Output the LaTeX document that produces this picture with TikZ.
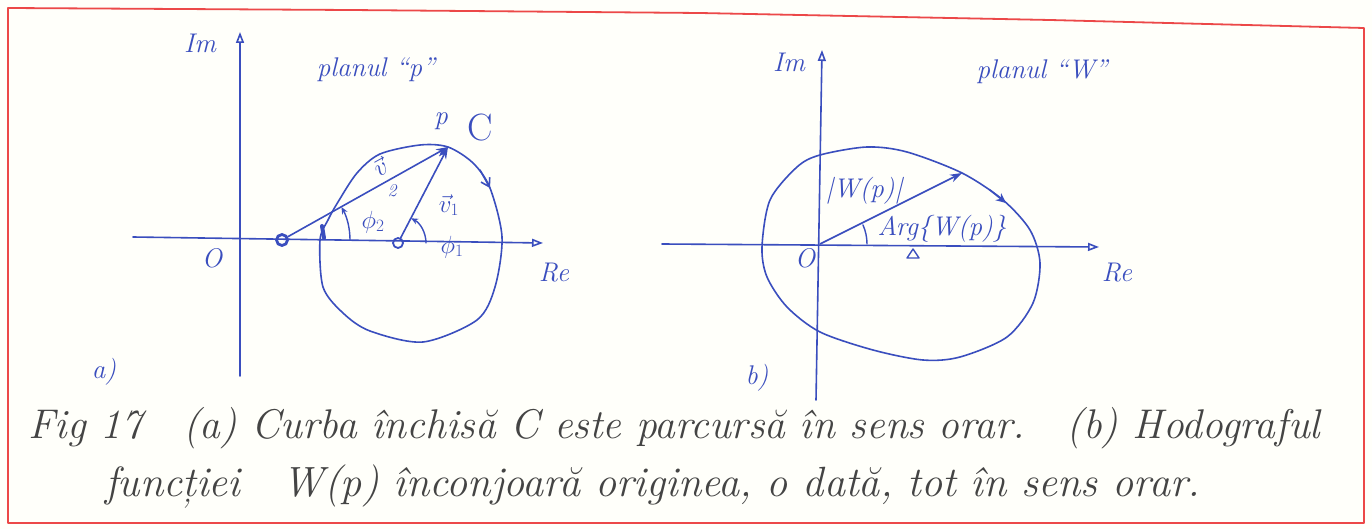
\documentclass[tikz,border=0pt]{standalone}
\usepackage{fontspec}
\usetikzlibrary{arrows.meta}
\definecolor{ink}{RGB}{58,78,190}
\definecolor{pencil}{RGB}{68,68,68}
\definecolor{framered}{RGB}{236,72,72}
\definecolor{paper}{RGB}{255,255,250}
\begin{document}
\begin{tikzpicture}[x=1pt,y=-1pt,line cap=round,line join=round,
  inkline/.style={draw=ink,line width=1.6pt},
  axisarrow/.style={inkline,-{Triangle[open,length=11pt,width=8pt]}},
  vecarrow/.style={inkline,-{Stealth[length=12pt,width=8pt]}},
  anglearrow/.style={draw=ink,line width=1.4pt,-{Stealth[length=7pt,width=6pt]}},
  lab/.style={text=ink,font=\itshape\fontsize{27}{31}\selectfont,inner sep=0pt},
  biglab/.style={text=ink,font=\fontsize{38}{44}\selectfont,inner sep=0pt},
  caption/.style={text=pencil,font=\itshape\fontsize{30}{36}\selectfont,inner sep=0pt,anchor=base west},
  pole/.style={circle,draw=ink,inner sep=0pt,minimum size=10pt}]
\useasboundingbox (0,0) rectangle (1372,529);
\fill[paper] (0,0) rectangle (1372,529);
% red frame
\draw[framered,line width=1.8pt] (8,523) -- (8,8) -- (350,10) -- (700,13) -- (1050,20) -- (1364,28) -- (1364,523) -- cycle;

% ---------------- (a) plane p ----------------
\coordinate (imA1) at (240,376);
\coordinate (imB1) at (240,32);
\coordinate (reA1) at (133,237);
\coordinate (reB1) at (543,243);
\draw[axisarrow] (imA1) -- (imB1);
\draw[axisarrow] (reA1) -- (reB1);
\node[lab] (im1) at (200,43) {Im};
\node[lab] (re1) at (554,273) {Re};
\node[lab] (o1) at (212,258) {O};
\node[lab] (pl1) at (376,70) {planul ``p''};
\node[lab] (a) at (104,372) {a)};

% closed curve C
\draw[inkline] plot[smooth cycle] coordinates {
  (320,240) (328,220) (338,202) (357,173) (380,154) (420,145) (448,147)
  (473,163) (490,188) (502,237) (495,287) (477,320) (423,342) (370,331)
  (343,313) (323,287)};
\draw[ink,line width=4pt] (322,226) -- (324,238);
% direction arrow on C
\draw[ink,line width=1.6pt,-{Straight Barb[length=8pt,width=10pt]}] (480,170) -- (490,188);

\node[pole,line width=2.8pt,minimum size=11pt] (z) at (282,240) {};
\node[pole,line width=1.8pt] (pl) at (398,243) {};
\coordinate (p) at (448,147);
\draw[vecarrow] (z) -- (p);
\draw[vecarrow] (pl) -- (p);
\node[lab] (pp) at (441,121) {p};
\node[biglab] (C) at (480,128) {C};
\node[lab,rotate=29] (v2) at (380,167) {$\vec{v}$};
\node[lab] (v2i) at (392,191) {\fontsize{18}{20}\selectfont 2};
\node[lab] (v1) at (449,205) {$\vec{v}_1$};

% angles
\draw[anglearrow] (350,240) arc[start angle=0,end angle=-29,radius=68];
\draw[anglearrow] (426,243) arc[start angle=0,end angle=-62,radius=28];
\node[lab] (f2) at (373,222) {$\phi_2$};
\node[lab] (f1) at (452,247) {$\phi_1$};

% ---------------- (b) plane W ----------------
\coordinate (imA2) at (816,400);
\coordinate (imB2) at (822,50);
\coordinate (reA2) at (662,244);
\coordinate (reB2) at (1099,247);
\coordinate (O2) at (820,244);
\draw[axisarrow] (imA2) -- (imB2);
\draw[axisarrow] (reA2) -- (reB2);
\node[lab] (im2) at (789,62) {Im};
\node[lab] (re2) at (1117,273) {Re};
\node[lab] (o2) at (805,258) {O};
\node[lab] (pl2) at (1042,72) {planul ``W''};
\node[lab] (b) at (757,378) {b)};

\draw[inkline] plot[smooth cycle] coordinates {
  (762,247) (770,200) (797,167) (820,155) (867,147) (907,152) (962,173)
  (1003,200) (1030,230) (1040,263) (1033,303) (1007,337) (960,357)
  (923,360) (873,350) (820,332) (787,307) (767,277)};
% direction arrow on hodograph
\draw[ink,line width=1.6pt,-{Stealth[length=10pt,width=9pt]}] (990,190) -- (1006,203);

\coordinate (w) at (962,173);
\draw[vecarrow] (O2) -- (w);
\node[lab] (wlab) at (864,191) {|W(p)|};
\draw[draw=ink,line width=1.4pt] (867,244) arc[start angle=0,end angle=-24,radius=47];
\node[lab] (arg) at (942,229) {Arg\{W(p)\}};
\draw[ink,line width=1.4pt] (907,258) -- (913,249) -- (919,258) -- cycle;

% ---------------- caption ----------------
\node[caption] (cap1) at (28,438) {\resizebox{1292pt}{!}{Fig 17\quad (a) Curba închisă C este parcursă în sens orar.\quad (b) Hodograful}};
\node[caption] (cap2) at (105,496) {\resizebox{1095pt}{!}{funcției\quad W(p) înconjoară originea, o dată, tot în sens orar.}};
\end{tikzpicture}
\end{document}
